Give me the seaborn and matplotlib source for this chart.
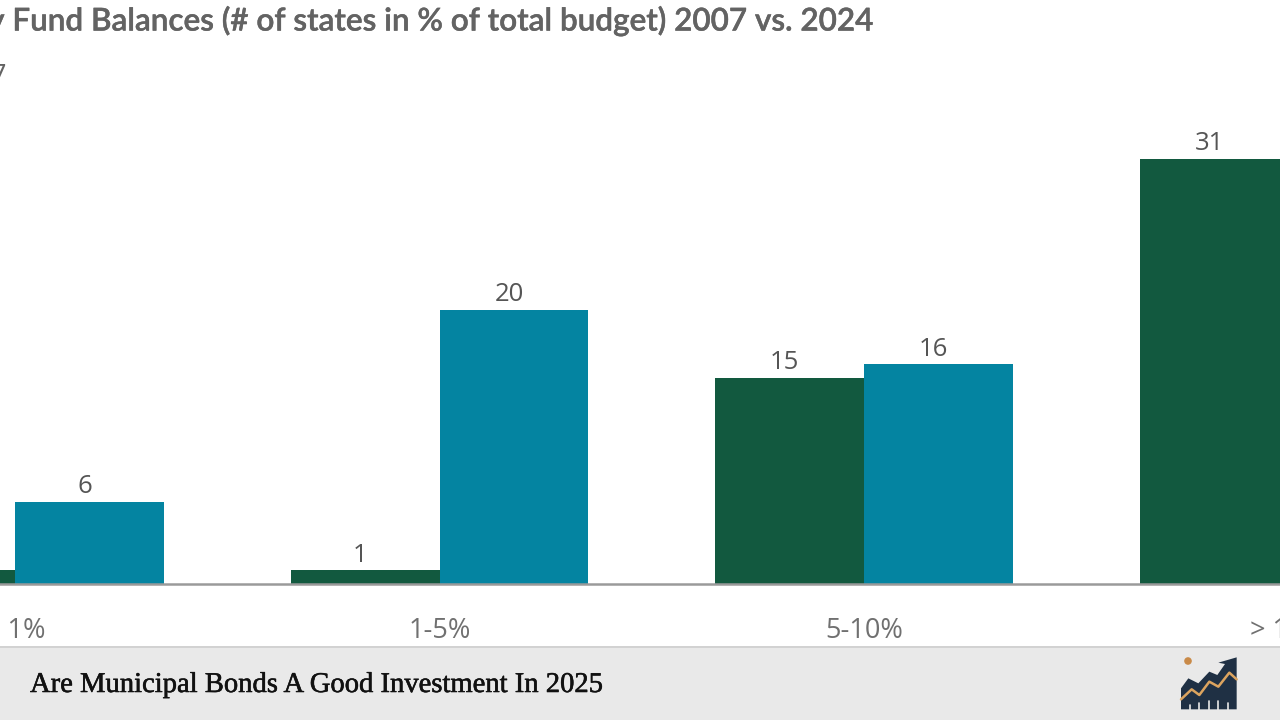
import numpy as np
import pandas as pd
import matplotlib
matplotlib.use("Agg")
import matplotlib.pyplot as plt
import matplotlib.patheffects as pe
from matplotlib.patches import Polygon, Rectangle, Circle
import seaborn as sns

# Values (2024 for "> 10%" sits off-canvas, so it is a guess)
categories = ["< 1%", "1-5%", "5-10%", "> 10%"]
values_2007 = [1, 1, 15, 31]
values_2024 = [6, 20, 16, 8]
years = ["2007", "2024"]
title = "Rainy Day Fund Balances (# of states in % of total budget) 2007 vs. 2024"
footer = "Are Municipal Bonds A Good Investment In 2025"

DARK = "#12593f"
TEAL = "#0484a1"
GREY = "#636363"
W, H = 1280, 720
BASE_Y = 584

df = pd.DataFrame({
    "bucket": categories * 2,
    "year": [years[0]] * 4 + [years[1]] * 4,
    "states": values_2007 + values_2024,
})

sns.set_theme(style="white")
plt.rcParams["font.family"] = ["Open Sans", "DejaVu Sans"]

fig = plt.figure(figsize=(12.8, 7.2), dpi=100, facecolor="white")
ax = fig.add_axes([0, (H - BASE_Y) / H, 1, BASE_Y / H])

sns.barplot(data=df, x="bucket", y="states", hue="year", order=categories,
            hue_order=years, palette=[DARK, TEAL], width=0.702, gap=0,
            saturation=1, legend=False, linewidth=0, edgecolor="none", ax=ax)

# one category is 424.5 px wide, first group centred at x=15 px
ax.set_xlim(-15 / 424.5, (W - 15) / 424.5)
ax.set_ylim(0, BASE_Y / 13.72)
ax.set_xlabel("")
ax.set_ylabel("")
ax.set_yticks([])
ax.set_xticks([])
ax.set_facecolor("white")
for side in ["top", "left", "right"]:
    ax.spines[side].set_visible(False)
ax.spines["bottom"].set_color("#9a9a9a")
ax.spines["bottom"].set_linewidth(1.8)

# the last group's centre is past the right edge, so a real tick would be dropped
for i, cat in enumerate(categories):
    ax.annotate(cat, (i, 0), xycoords=ax.get_xaxis_transform(),
                xytext=(0, -33.5), textcoords="offset points", ha="center",
                va="center", fontsize=19.5, color="#707070",
                annotation_clip=False)

for container in ax.containers:
    for bar in container:
        ax.annotate(f"{bar.get_height():.0f}",
                    (bar.get_x() + bar.get_width() / 2, bar.get_height()),
                    xytext=(-3.5, 11), textcoords="offset points",
                    ha="center", va="center", fontsize=18.5, color="#555555")

fig.text(875 / W, 1 - 21 / H, title, ha="right", va="center", fontsize=22.65,
         family="Lato", fontweight="semibold", color=GREY,
         path_effects=[pe.withStroke(linewidth=0.3, foreground=GREY)])
fig.text(7 / W, 1 - 77 / H, years[0], ha="right", va="center", fontsize=20,
         color=GREY)

# Footer strip and logo, drawn on a pixel-coordinate overlay
over = fig.add_axes([0, 0, 1, 1], zorder=5)
over.set_xlim(0, W)
over.set_ylim(H, 0)
over.axis("off")
over.add_patch(Rectangle((0, 647), W, 73, facecolor="#e9e9e9", edgecolor="none"))
over.add_patch(Rectangle((0, 646), W, 2, facecolor="#d2d2d2", edgecolor="none"))
over.text(30, 685, footer, ha="left", va="center", fontsize=20.6,
          family="Liberation Serif", color="#111111",
          path_effects=[pe.withStroke(linewidth=0.4, foreground="#111111")])


def logo_xy(points):
    pts = np.array(points, dtype=float)
    return pts / 3 + [1160, 640]


over.add_patch(Polygon(logo_xy([(63, 208), (63, 145), (85, 115), (115, 130),
                                (148, 95), (172, 105), (195, 72), (175, 68),
                                (230, 52), (230, 208)]),
                       facecolor="#1f3044", edgecolor="none"))
line = logo_xy([(63, 178), (95, 148), (118, 165), (148, 125), (175, 140),
                (208, 98), (230, 118)])
over.plot(line[:, 0], line[:, 1], color="#dca45f", lw=1.8)
for zx, top in zip([90, 118, 147, 175, 204], [195, 188, 182, 182, 190]):
    tick = logo_xy([(zx, top), (zx, 210)])
    over.plot(tick[:, 0], tick[:, 1], color="#e9e9e9", lw=1.2)
over.add_patch(Circle(logo_xy([(84, 63)])[0], 3.8, facecolor="#c98a48",
                      edgecolor="none"))

fig.savefig("out.png", dpi=100)
